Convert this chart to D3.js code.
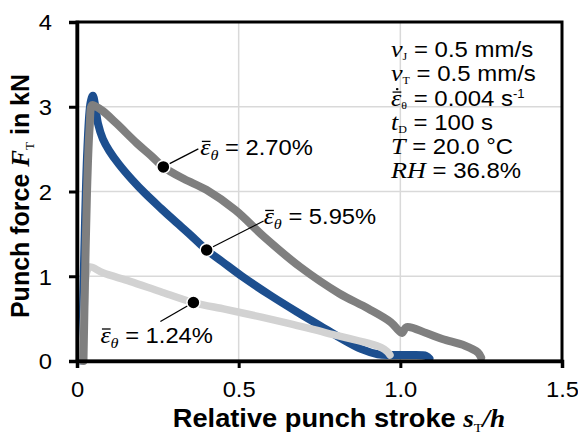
<!DOCTYPE html>
<html>
<head>
<meta charset="utf-8">
<script src="https://cdn.jsdelivr.net/npm/d3@7"></script>
<style>
  html, body { margin: 0; padding: 0; background: #fff; }
  svg { display: block; }
</style>
</head>
<body>
<svg id="chart" width="578" height="438"></svg>
<script>
// Punch force F_T (kN) against relative punch stroke s_T/h for three mean strains
const strainLabels = ["5.95%", "2.70%", "1.24%"];

const strokeHigh = [0.015, 0.022, 0.032, 0.042, 0.049, 0.056, 0.065, 0.080, 0.100, 0.130, 0.170, 0.210, 0.260, 0.300, 0.350, 0.401, 0.450, 0.510, 0.600, 0.680, 0.750, 0.820, 0.880, 0.930, 0.970, 1.030, 1.080, 1.090];
const forceHigh  = [0.00, 1.20, 2.50, 3.05, 3.13, 3.02, 2.80, 2.62, 2.48, 2.32, 2.14, 1.98, 1.80, 1.66, 1.49, 1.31, 1.17, 1.00, 0.77, 0.58, 0.42, 0.26, 0.14, 0.08, 0.07, 0.07, 0.06, 0.03];

const strokeMid = [0.020, 0.025, 0.031, 0.039, 0.047, 0.060, 0.080, 0.123, 0.185, 0.230, 0.267, 0.330, 0.400, 0.490, 0.580, 0.690, 0.810, 0.900, 0.970, 0.995, 1.005, 1.020, 1.080, 1.130, 1.200, 1.240, 1.250];
const forceMid  = [0.00, 1.00, 2.00, 2.75, 3.02, 3.00, 2.95, 2.80, 2.57, 2.42, 2.29, 2.15, 2.02, 1.78, 1.46, 1.11, 0.80, 0.62, 0.46, 0.36, 0.33, 0.40, 0.33, 0.26, 0.18, 0.10, 0.04];

const strokeLow = [0.015, 0.022, 0.030, 0.040, 0.080, 0.164, 0.257, 0.360, 0.460, 0.567, 0.670, 0.773, 0.900, 0.940, 0.960, 0.968];
const forceLow  = [0.00, 0.60, 1.05, 1.11, 1.04, 0.94, 0.82, 0.69, 0.61, 0.52, 0.43, 0.33, 0.21, 0.16, 0.11, 0.07];

// marker on each curve where its strain label points
const markerStroke = [0.401, 0.267, 0.360];
const markerForce  = [1.31, 2.29, 0.69];

const xTicks = [0, 0.5, 1.0, 1.5];
const xTickLabels = ["0", "0.5", "1.0", "1.5"];
const yTicks = [0, 1, 2, 3, 4];
const yTickLabels = ["0", "1", "2", "3", "4"];

// test conditions listed in the upper right corner
const condSymbols = ["v", "v", "ε", "t", "T", "RH"];
const condSubs    = ["J", "T", "θ", "D", "", ""];
const condValues  = [" = 0.5 mm/s", " = 0.5 mm/s", " = 0.004 s", " = 100 s", " = 20.0 °C", " = 36.8%"];
const condSups    = ["", "", "-1", "", "", ""];

const lineColors = ["#1d4f8f", "#7f7f7f", "#d2d2d2"];

const SANS = "'Liberation Sans', Arial, sans-serif";
const SERIF = "'Liberation Serif', 'Times New Roman', serif";
const STRETCH = 1.08; // the figure's lettering runs slightly wide

const svg = d3.select("#chart");
const W = 578, H = 438;
const margin = { left: 77, top: 22, right: W - 562, bottom: H - 361 };

const x = d3.scaleLinear().domain([0, 1.5]).range([margin.left, W - margin.right]);
const y = d3.scaleLinear().domain([0, 4]).range([H - margin.bottom, margin.top]);

// widen a group horizontally about a fixed x
function widen(sel, ox, k) {
  sel.attr("transform", `translate(${ox},0) scale(${k},1) translate(${-ox},0)`);
}

// grid
const grid = svg.append("g").attr("stroke", "#d9d9d9").attr("stroke-width", 1.5);
grid.selectAll("line.gx").data(xTicks.slice(1, -1)).join("line")
  .attr("x1", d => x(d)).attr("x2", d => x(d))
  .attr("y1", y(0)).attr("y2", y(4));
grid.selectAll("line.gy").data(yTicks.slice(1, -1)).join("line")
  .attr("x1", x(0)).attr("x2", x(1.5))
  .attr("y1", d => y(d)).attr("y2", d => y(d));

// curves
const line = d3.line().x(d => x(d[0])).y(d => y(d[1])).curve(d3.curveCatmullRom.alpha(0.5));
const series = [
  { s: strokeHigh, f: forceHigh, c: lineColors[0], w: 8 },
  { s: strokeLow,  f: forceLow,  c: lineColors[2], w: 7.5 },
  { s: strokeMid,  f: forceMid,  c: lineColors[1], w: 8 }
];
svg.append("g").selectAll("path").data(series).join("path")
  .attr("d", d => line(d.s.map((v, i) => [v, d.f[i]])))
  .attr("fill", "none")
  .attr("stroke", d => d.c)
  .attr("stroke-width", d => d.w)
  .attr("stroke-linecap", "round")
  .attr("stroke-linejoin", "round");

// frame and axes
svg.append("rect")
  .attr("x", x(0)).attr("y", y(4))
  .attr("width", x(1.5) - x(0)).attr("height", y(0) - y(4))
  .attr("fill", "none").attr("stroke", "#000").attr("stroke-width", 3);

const xAxis = d3.axisBottom(x).tickValues(xTicks).tickSize(7).tickFormat((d, i) => xTickLabels[i]).tickPadding(13);
const yAxis = d3.axisLeft(y).tickValues(yTicks).tickSize(8).tickFormat((d, i) => yTickLabels[i]).tickPadding(17);

const gx = svg.append("g").attr("transform", `translate(0,${y(0)})`).call(xAxis);
const gy = svg.append("g").attr("transform", `translate(${x(0)},0)`).call(yAxis);
[gx, gy].forEach(g => {
  g.select(".domain").attr("stroke", "#000").attr("stroke-width", 3.5);
  g.selectAll(".tick line").attr("stroke", "#000").attr("stroke-width", 3);
  g.selectAll(".tick text").attr("fill", "#000")
    .attr("font-family", SANS).attr("font-size", 22);
});
gx.selectAll(".tick text").attr("dy", "0.71em").attr("transform", `scale(${STRETCH},1)`);
gy.selectAll(".tick text").attr("dy", "0.36em")
  .attr("transform", function () {
    const tx = +d3.select(this).attr("x");
    return `translate(${tx},0) scale(${STRETCH},1) translate(${-tx},0)`;
  });

// axis titles
const yTitle = svg.append("text")
  .attr("transform", `translate(29,196) rotate(-90)`)
  .attr("text-anchor", "middle")
  .attr("font-size", 25).attr("fill", "#000");
yTitle.append("tspan").attr("font-family", SANS).attr("font-weight", "bold").text("Punch force ");
yTitle.append("tspan").attr("font-family", SERIF).attr("font-style", "italic").attr("font-weight", "bold").text("F");
yTitle.append("tspan").attr("font-family", SERIF).attr("font-size", 13).attr("dy", 5).text("T");
yTitle.append("tspan").attr("font-family", SANS).attr("font-weight", "bold").attr("dy", -5).text(" in kN");

const xTitleG = svg.append("g");
const xTitle = xTitleG.append("text")
  .attr("x", 339).attr("y", 427)
  .attr("text-anchor", "middle")
  .attr("font-size", 25).attr("fill", "#000");
xTitle.append("tspan").attr("font-family", SANS).attr("font-weight", "bold").text("Relative punch stroke ");
xTitle.append("tspan").attr("font-family", SERIF).attr("font-style", "italic").attr("font-weight", "bold").text("s");
xTitle.append("tspan").attr("font-family", SERIF).attr("font-size", 13).attr("dy", 5).text("T");
xTitle.append("tspan").attr("font-family", SERIF).attr("font-style", "italic").attr("font-weight", "bold").attr("dy", -5).text("/h");
widen(xTitleG, 339, 1.09);

// overbar (and optional rate dot) over the first glyph of a text element
function overbar(textSel, withDot) {
  const node = textSel.node();
  const start = node.getStartPositionOfChar(0);
  const w = node.getSubStringLength(0, 1);
  const bb = node.getExtentOfChar(0);
  const yb = start.y - bb.height * 0.52;
  const parent = d3.select(node.parentNode);
  parent.append("line")
    .attr("x1", start.x + w * 0.15).attr("x2", start.x + w * 1.0)
    .attr("y1", yb).attr("y2", yb)
    .attr("stroke", "#000").attr("stroke-width", 1.3);
  if (withDot) {
    parent.append("circle")
      .attr("cx", start.x + w * 0.6).attr("cy", yb - 3).attr("r", 1.2).attr("fill", "#000");
  }
}

// strain labels with leader lines and markers
const labelOffsets = [
  { lx: 57, ly: -29, tx: 57, ty: -26 },
  { lx: 35, ly: -18, tx: 37, ty: -12 },
  { lx: -33, ly: 19, tx: -93, ty: 40 }
];
const annG = svg.append("g");
markerStroke.forEach((s, i) => {
  const px = x(s), py = y(markerForce[i]);
  const o = labelOffsets[i];
  annG.append("line")
    .attr("x1", px).attr("y1", py).attr("x2", px + o.lx).attr("y2", py + o.ly)
    .attr("stroke", "#000").attr("stroke-width", 1.3);
  annG.append("circle")
    .attr("cx", px).attr("cy", py).attr("r", 6.5)
    .attr("fill", "#000").attr("stroke", "#fff").attr("stroke-width", 1.5);
  const g = annG.append("g");
  const t = g.append("text")
    .attr("x", px + o.tx).attr("y", py + o.ty)
    .attr("fill", "#000");
  t.append("tspan").attr("font-family", SERIF).attr("font-style", "italic").attr("font-size", 24).text("ε");
  t.append("tspan").attr("font-family", SERIF).attr("font-style", "italic").attr("font-size", 15).attr("dy", 5).text("θ");
  t.append("tspan").attr("font-family", SANS).attr("font-size", 22).attr("dy", -5).text(" = " + strainLabels[i]);
  overbar(t, false);
  widen(g, px + o.tx, STRETCH);
});

// condition block
const condG = svg.append("g");
condSymbols.forEach((sym, i) => {
  const g = condG.append("g");
  const t = g.append("text")
    .attr("x", 391).attr("y", 57 + i * 24.3)
    .attr("fill", "#000");
  t.append("tspan").attr("font-family", SERIF).attr("font-style", "italic").attr("font-size", 24).text(sym);
  if (condSubs[i]) {
    t.append("tspan").attr("font-family", SERIF).attr("font-size", 11).attr("dy", 3).text(condSubs[i]);
    t.append("tspan").attr("font-family", SANS).attr("font-size", 22).attr("dy", -3).text(condValues[i]);
  } else {
    t.append("tspan").attr("font-family", SANS).attr("font-size", 22).text(condValues[i]);
  }
  if (condSups[i]) {
    t.append("tspan").attr("font-family", SANS).attr("font-size", 12).attr("dy", -8).text(condSups[i]);
  }
  if (sym === "ε") overbar(t, true);
});
widen(condG, 391, 1.09);
</script>
</body>
</html>
